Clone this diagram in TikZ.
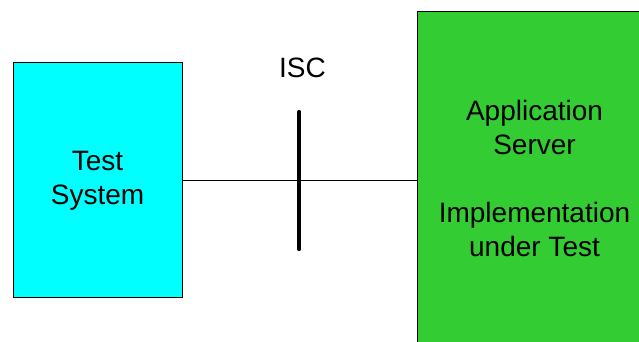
\documentclass[tikz,border=0pt]{standalone}
\usepackage{fontspec}
\setmainfont{Liberation Sans}
\definecolor{tscyan}{HTML}{00FFFF}
\definecolor{asgreen}{HTML}{33CC33}
\begin{document}
\begin{tikzpicture}[x=1pt,y=1pt,
  box/.style={draw=black,line width=1pt,inner sep=0pt,align=center,
    font=\fontsize{28}{34}\selectfont},
  conn/.style={draw=black,line width=1pt},
  bar/.style={draw=black,line width=4.2pt,line cap=round},
  lbl/.style={font=\fontsize{28}{34}\selectfont,inner sep=0pt}]
\useasboundingbox (0,0) rectangle (639,342);
\fill[white] (0,0) rectangle (639,342);
\node[box,fill=tscyan,minimum width=169,minimum height=235] (ts) at (97.5,161.5) {Test\\System};
\node[box,fill=asgreen,minimum width=235,minimum height=332] (as) at (534.5,164) {Application\\Server\\[34pt]Implementation\\under Test};
\node[lbl,anchor=base] (isc) at (302.5,264.7) {ISC};
\coordinate (bartop) at (299.3,230);
\coordinate (barbot) at (299.3,93);
\draw[conn] (ts.east) -- (ts.east -| as.west);
\draw[bar] (bartop) -- (barbot);
\end{tikzpicture}
\end{document}
